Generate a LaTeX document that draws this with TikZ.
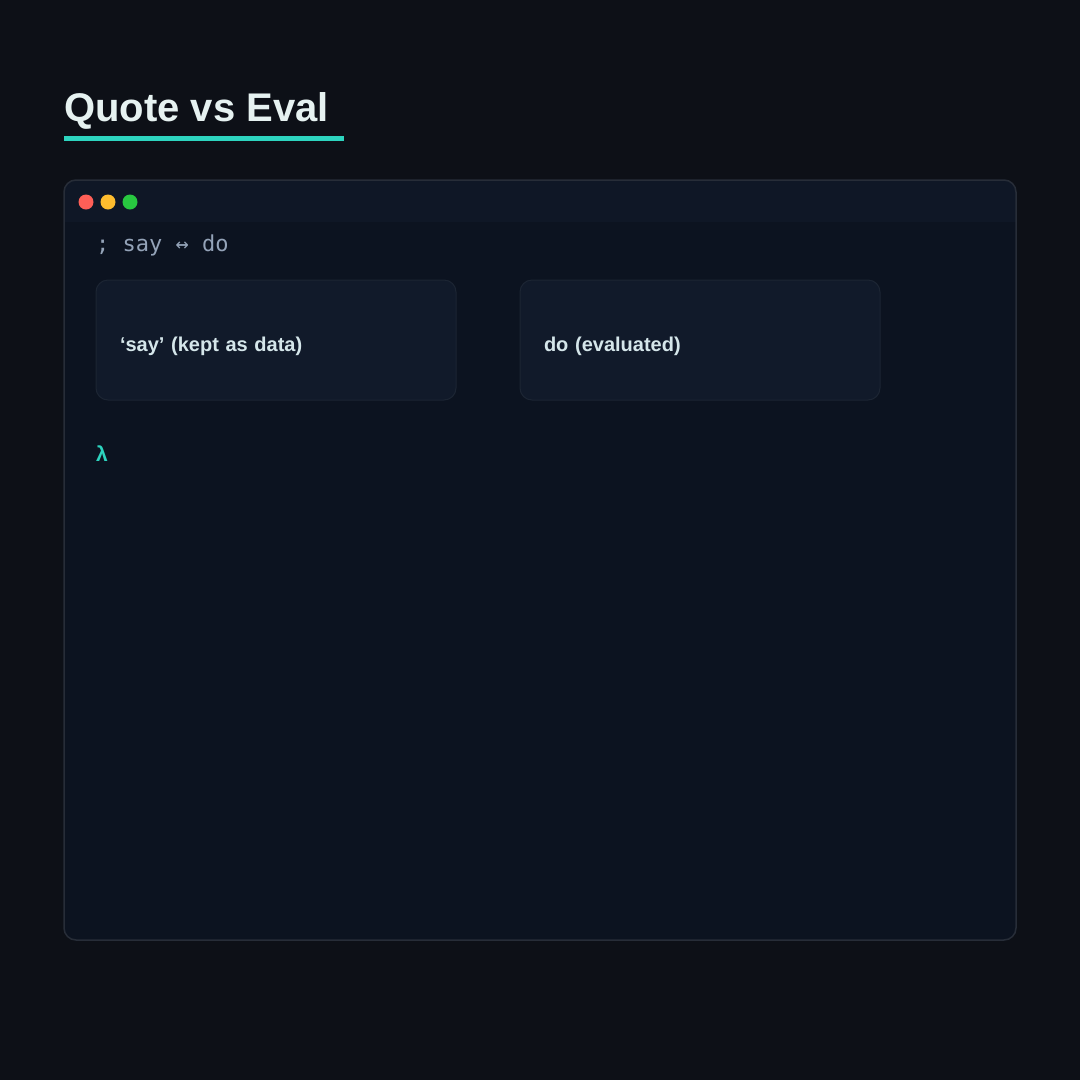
\documentclass[tikz,border=0pt]{standalone}
\usepackage{fontspec}
\setmainfont{Liberation Sans}
\setmonofont{DejaVu Sans Mono}
\usetikzlibrary{positioning}
\definecolor{bgcol}{HTML}{0D1017}
\definecolor{winfill}{HTML}{0C1320}
\definecolor{barfill}{HTML}{0F1726}
\definecolor{winline}{HTML}{272D38}
\definecolor{boxfill}{HTML}{111A2A}
\definecolor{boxline}{HTML}{1C2533}
\definecolor{accent}{HTML}{2DD4BF}
\definecolor{titlecol}{HTML}{E6F2F1}
\definecolor{labelcol}{HTML}{D5E6EA}
\definecolor{commentcol}{HTML}{94A3B8}
\definecolor{dotred}{HTML}{FF5F57}
\definecolor{dotamber}{HTML}{FEBC2E}
\definecolor{dotgreen}{HTML}{28C840}

\begin{document}
\begin{tikzpicture}
   [x=1pt,y=-1pt,
    panel/.style={rectangle,rounded corners=12pt,draw=boxline,fill=boxfill,line width=1pt,
      minimum width=360pt,minimum height=120pt,text width=312pt,inner xsep=24pt,
      text height=22pt,text depth=0pt,
      align=left,outer sep=0pt,text=labelcol,font=\bfseries\fontsize{20}{24}\selectfont},
    dot/.style={circle,minimum size=15pt,inner sep=0pt,outer sep=0pt}]

\fill [bgcol] (0,0) rectangle (1080,1080);

% title
\node [anchor=base west,inner sep=0pt,text=titlecol,font=\bfseries\fontsize{40}{48}\selectfont] (title) at (64,121) {Quote vs Eval};
\fill [accent] (64,136) rectangle (344,141);

% window
\fill [winfill,rounded corners=12pt] (64,180) rectangle (1016,940);
\fill [barfill] (64,222) [rounded corners=12pt] -- (64,180) -- (1016,180) [sharp corners] -- (1016,222) -- cycle;
\draw [winline,line width=1.5pt,rounded corners=12pt] (64,180) rectangle (1016,940);

\node [dot,fill=dotred] (red) at (86,202) {};
\node [dot,fill=dotamber,right=7pt of red] (amber) {};
\node [dot,fill=dotgreen,right=7pt of amber] (green) {};

\node [anchor=base west,inner sep=0pt,text=commentcol,font=\ttfamily\fontsize{22}{26}\selectfont] (comment) at (96,251) {; say ↔ do};

\node [panel,anchor=north west] (quoted) at (96,280) {‘say’ (kept as data)};
\node [panel,right=64pt of quoted] (evaluated) {do (evaluated)};

\node [anchor=base west,inner sep=0pt,text=accent,font=\bfseries\fontsize{21}{24}\selectfont] (prompt) at (96,461) {λ};
\end{tikzpicture}
\end{document}
